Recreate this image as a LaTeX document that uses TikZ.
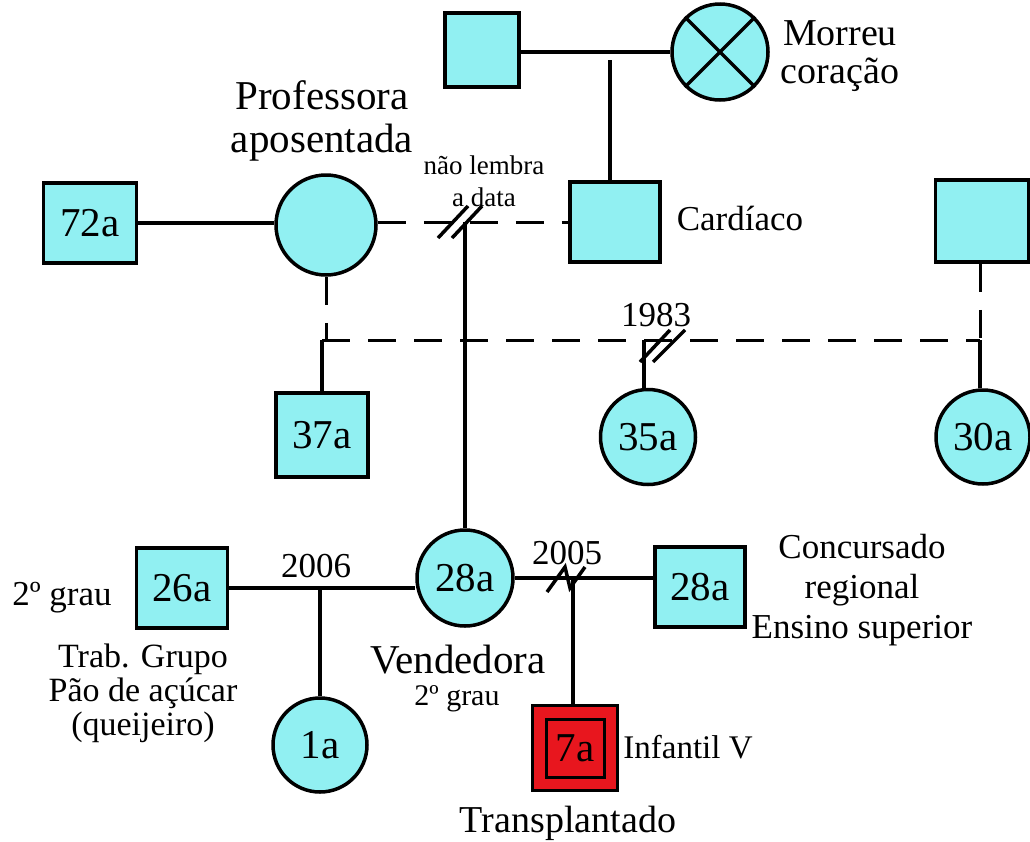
\documentclass[tikz,border=0pt]{standalone}
\usepackage{fontspec}
\setmainfont{Liberation Serif}
\usetikzlibrary{calc}
\definecolor{kin}{RGB}{145,240,242}
\definecolor{patient}{RGB}{232,22,30}
\begin{document}
\begin{tikzpicture}[x=1pt,y=-1pt,
  person/.style={draw=black,line width=3.5pt,fill=kin,inner sep=0pt,
    font=\fontsize{41}{42}\selectfont},
  male/.style={person,rectangle,minimum width=#1},
  male/.default=90pt,
  female/.style={person,circle,minimum size=#1},
  female/.default=96pt,
  tie/.style={line width=3.5pt},
  loose/.style={line width=3pt,dash pattern=on 28pt off 18pt},
  lbl/.style={font=\fontsize{35}{40}\selectfont,align=center,inner sep=0pt},
  small/.style={font=\fontsize{27}{32}\selectfont,align=center,inner sep=0pt},
  ]
\useasboundingbox (0,0) rectangle (1030,841);
\begin{scope}
\clip (0,0) rectangle (1030,841);

% ---- people ----
\node[male=74pt,minimum height=74pt] (gf) at (482,50) {};
\node[female] (gm) at (720,52) {};
\draw[tie] (gm.north west) -- (gm.south east) (gm.north east) -- (gm.south west);

\node[male=90pt,minimum height=80pt] (card) at (615,222) {};
\node[male=93pt,minimum height=80pt] (m72) at (90,223) {72a};
\node[female=100pt] (prof) at (326,225) {};
\node[male=93pt,minimum height=82pt] (rsq) at (982,221) {};

\node[male=92pt,minimum height=84pt] (s37) at (322,435) {37a};
\node[female=95pt] (c35) at (648,437) {35a};
\node[female=94pt] (c30) at (983,437) {30a};

\node[male=91pt,minimum height=80pt] (s26) at (182,588) {26a};
\node[female=96pt] (c28) at (465,578) {28a};
\node[male=90pt,minimum height=80pt] (s28) at (700,587) {28a};
\node[female=94pt] (c1) at (320,745) {1a};
\node[draw=black,line width=3.5pt,fill=patient,minimum size=85pt,inner sep=0pt] (s7) at (575,748) {};
\node[draw=black,line width=3pt,minimum size=58pt,inner sep=0pt,
      font=\fontsize{41}{42}\selectfont] (s7in) at (s7) {7a};

% ---- grandparents ----
\draw[tie] (gf.east |- gm.west) -- (gm.west);
\coordinate (gpc) at (610,60);
\draw[tie] (gpc) -- (gpc |- card.north);

% ---- professora's unions ----
\draw[tie] (m72.east) -- (prof.west |- m72.east);
\draw[loose] (prof.east |- card.west) -- (card.west);
\coordinate (pcd) at (c28.north |- card.west);
\draw[tie] (pcd) -- (c28.north);
\draw[tie] (pcd) ++(-27,16) -- ++(30,-32);
\draw[tie] (pcd) ++(-13,16) -- ++(30,-32);

% ---- half-sibling line ----
\coordinate (sib) at (322,340);
\coordinate (sibr) at (980,340);
\draw[loose] (prof.south) -- (prof.south |- sib);
\draw[loose] (rsq.south -| sibr) -- (sibr);
\draw[loose] (sib) -- (sibr);
\draw[tie] (sib) -- (s37.north -| sib);
\draw[tie] (sibr) -- (c30.north -| sibr);
\coordinate (m35) at (644,340);
\draw[tie] (m35) -- (m35 |- c35.north);
\draw[tie] (m35) ++(-4,22) -- ++(30,-32);
\draw[tie] (m35) ++(9,22) -- ++(32,-32);

% ---- 28a's unions ----
\draw[tie] (s26.east) -- (c28.west |- s26.east);
\coordinate (u26) at (320,588);
\draw[tie] (u26) -- (c1.north);
\draw[tie] (c28.east) -- (s28.west |- c28.east);
\coordinate (u28) at (573,578);
\draw[tie] (u28) -- (s7.north -| u28);
\draw[tie] (547,592) -- (565,567) -- (570,588) -- (585,567);
\end{scope}

% ---- labels ----
\node[lbl,font=\fontsize{38}{38}\selectfont] (tmorreu) at (840,56) {Morreu\\coração};
\node[lbl,font=\fontsize{41}{43}\selectfont] (tprof) at (322,121) {Professora\\aposentada};
\node[small] (tdata) at (484,181) {não lembra\\a data};
\node[lbl] (tcard) at (740,218) {Cardíaco};
\node[lbl] (t1983) at (656,315) {1983};
\node[lbl] (t2006) at (316,566) {2006};
\node[lbl] (t2005) at (567,553) {2005};
\node[lbl] (tgrau) at (62,598) {2º grau};
\node[lbl,font=\fontsize{34}{34}\selectfont] (ttrab) at (143,693) {Trab. Grupo\\Pão de açúcar\\(queijeiro)};
\node[lbl,font=\fontsize{41}{42}\selectfont] (tvend) at (458,660) {Vendedora};
\node[lbl,font=\fontsize{30}{34}\selectfont] (tgrau2) at (457,699) {2º grau};
\node[lbl] (tconc) at (862,590) {Concursado\\regional\\Ensino superior};
\node[lbl,font=\fontsize{33}{40}\selectfont] (tinf) at (688,747) {Infantil V};
\node[lbl,font=\fontsize{38}{40}\selectfont] (ttrans) at (568,823) {Transplantado};
\end{tikzpicture}
\end{document}
